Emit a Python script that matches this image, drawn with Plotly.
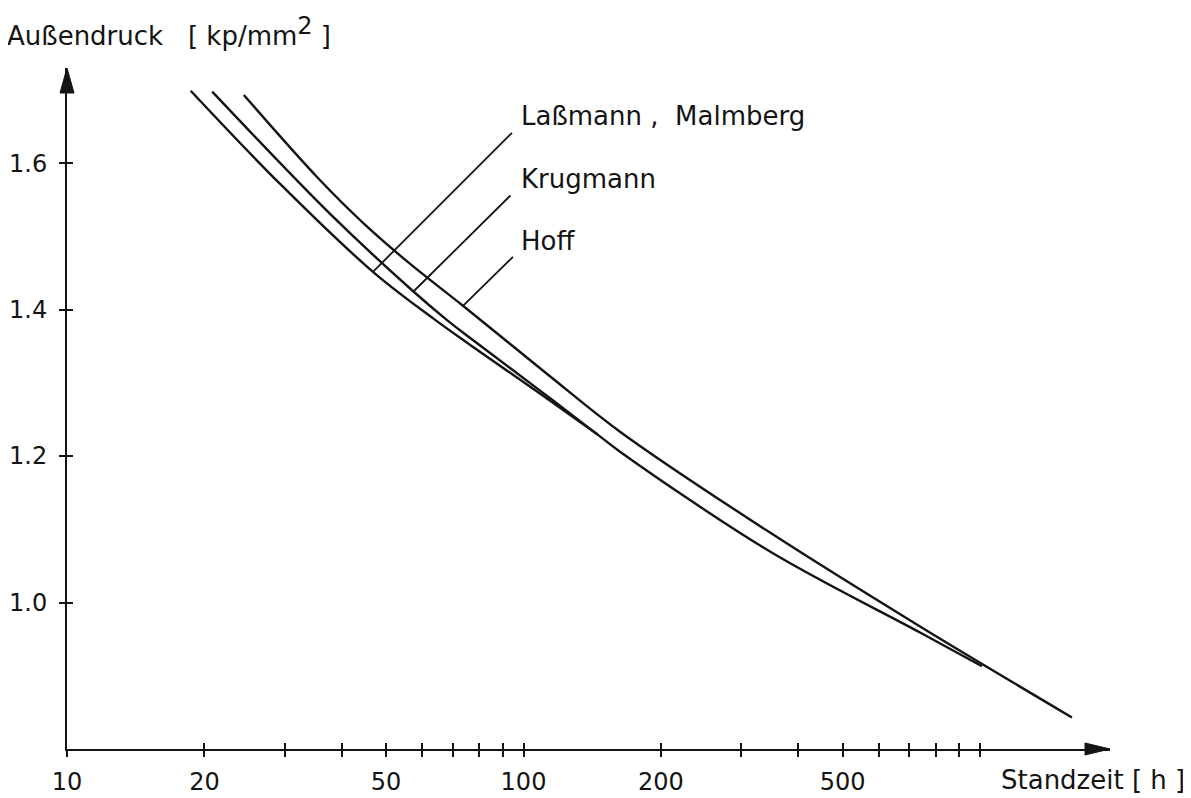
import numpy as np
import plotly.graph_objects as go

# ---------------- data ----------------
t_lassmann = [18.66, 29.3, 46.8, 63.4, 76.3, 110, 145.6]
p_lassmann = [1.6989, 1.5716, 1.4516, 1.388, 1.352, 1.283, 1.229]

t_krugmann = [20.8, 37.7, 57.4, 67.9, 76.3, 110, 145.6, 162.7, 346.7, 739, 1010]
p_krugmann = [1.6976, 1.5307, 1.4247, 1.386, 1.3615, 1.287, 1.229, 1.206, 1.0696, 0.959, 0.913]

t_hoff = [24.4, 35.5, 44.7, 56.2, 73.7, 113.2, 162.7, 346.7, 739, 1590]
p_hoff = [1.693, 1.5794, 1.5174, 1.4634, 1.4052, 1.3111, 1.2333, 1.0955, 0.9673, 0.8431]

x_tickvals = [10, 20, 30, 40, 50, 60, 70, 80, 90, 100,
              200, 300, 400, 500, 600, 700, 800, 900, 1000]
x_labelled = [10, 20, 50, 100, 200, 500]
y_tickvals = [1.0, 1.2, 1.4, 1.6]
y_ticktext = ["1.0", "1.2", "1.4", "1.6"]

labels = ["Laßmann ,  Malmberg", "Krugmann", "Hoff"]
label_anchor_t = [46.8, 57.4, 73.7]   # where leader lines touch their curve

# ---------------- layout geometry ----------------
OFF = 8                      # page body margin of the browser
W, H = 1191 - OFF, 798 - OFF
L, R, T, B = 67 - OFF, 81, 68 - OFF, 49
PW, PH = W - L - R, H - T - B
x_range = [1.0, 3.2848]
y_range = [0.8, 1.7299]
PX_PER_LOG = PW / (x_range[1] - x_range[0])
PX_PER_P = PH / (y_range[1] - y_range[0])


def px_x(px):
    return (px - OFF - L) / PW


def px_y(py):
    return (H - B - (py - OFF)) / PH


INK = "#141414"
FONT = "DejaVu Sans"

fig = go.Figure()
curves = [(t_lassmann, p_lassmann, "x", "y"),
          (t_krugmann, p_krugmann, "x", "y"),
          (t_hoff, p_hoff, "x2", "y2")]
for (tt, pp, xa, ya), name in zip(curves, labels):
    fig.add_trace(go.Scatter(x=tt, y=pp, mode="lines", name=name,
                             line=dict(color=INK, width=2.4, shape="spline", smoothing=1.0),
                             xaxis=xa, yaxis=ya, hoverinfo="skip"))

x_unlabelled = [v for v in x_tickvals if v not in x_labelled]

tick_style = dict(tickcolor=INK, tickwidth=1.5, ticklen=6)
common_x = dict(type="log", range=x_range, showgrid=False, zeroline=False,
                automargin=False, **tick_style)
common_y = dict(range=y_range, showgrid=False, zeroline=False,
                automargin=False, **tick_style)

fig.update_layout(
    width=W, height=H,
    margin=dict(l=L, r=R, t=T, b=B, pad=0),
    paper_bgcolor="white", plot_bgcolor="white",
    showlegend=False,
    font=dict(family=FONT, color=INK),
    xaxis=dict(**common_x, ticks="outside",
               tickmode="array", tickvals=x_labelled,
               ticktext=[str(v) for v in x_labelled], tickangle=0,
               minor=dict(tickmode="array", tickvals=x_unlabelled, ticks="outside",
                          showgrid=False, **tick_style),
               showline=True, linecolor=INK, linewidth=2,
               tickfont=dict(size=24, family=FONT, color=INK),
               ticklabelstandoff=4),
    yaxis=dict(**common_y, ticks="outside", tickmode="array",
               tickvals=y_tickvals, ticktext=y_ticktext,
               showline=True, linecolor=INK, linewidth=2,
               tickfont=dict(size=24, family=FONT, color=INK),
               ticklabelstandoff=7),
    xaxis2=dict(**common_x, ticks="inside", tickmode="array", tickvals=x_tickvals,
                overlaying="x", anchor="y2", side="bottom",
                showticklabels=False, showline=False),
    yaxis2=dict(**common_y, ticks="inside", tickmode="array", tickvals=y_tickvals,
                overlaying="y", anchor="x2", side="left",
                showticklabels=False, showline=False),
)

# axis arrowheads (pixel-sized shapes anchored at the axis ends)
fig.add_shape(type="path", xref="paper", yref="paper", xsizemode="pixel", ysizemode="pixel",
              xanchor=0, yanchor=1, path="M 0 0 L -7 -25 L 7 -25 Z",
              fillcolor=INK, line=dict(color=INK, width=1))
fig.add_shape(type="path", xref="paper", yref="paper", xsizemode="pixel", ysizemode="pixel",
              xanchor=1, yanchor=0, path="M 0 0 L -25 6 L -25 -6 Z",
              fillcolor=INK, line=dict(color=INK, width=1))

# leader lines from labels to curves (pixel offsets of the label end);
# shapes on a log axis take data values
curve_data = [(t_lassmann, p_lassmann), (t_krugmann, p_krugmann), (t_hoff, p_hoff)]
leader_offsets = [(139, -139), (97, -96), (50, -49)]
for (tt, pp), ta, (dx, dy) in zip(curve_data, label_anchor_t, leader_offsets):
    lx = float(np.log10(ta))
    py = float(np.interp(lx, np.log10(tt), pp))
    fig.add_shape(type="line", xref="x", yref="y", layer="above",
                  x0=ta, y0=py, x1=10 ** (lx + dx / PX_PER_LOG), y1=py - dy / PX_PER_P,
                  line=dict(color=INK, width=1.8))

# label texts (reference pixel positions: left edge, vertical centre)
label_pos = [(519, 116), (519, 179), (519, 241)]
for txt, (lxp, lyp) in zip(labels, label_pos):
    fig.add_annotation(x=px_x(lxp), y=px_y(lyp), xref="paper", yref="paper",
                       text=txt, showarrow=False, xanchor="left", yanchor="middle",
                       font=dict(size=26, family=FONT, color=INK))

# axis titles
fig.add_annotation(x=px_x(5), y=px_y(31), xref="paper", yref="paper",
                   text="Außendruck   [ kp/mm<sup><span style='font-size:24px'>2</span></sup> ]",
                   showarrow=False, xanchor="left", yanchor="middle",
                   font=dict(size=26, family=FONT, color=INK))
fig.add_annotation(x=px_x(999), y=px_y(780), xref="paper", yref="paper",
                   text="Standzeit [ h ]", showarrow=False,
                   xanchor="left", yanchor="middle",
                   font=dict(size=26, family=FONT, color=INK))

fig.write_html("out.html")
